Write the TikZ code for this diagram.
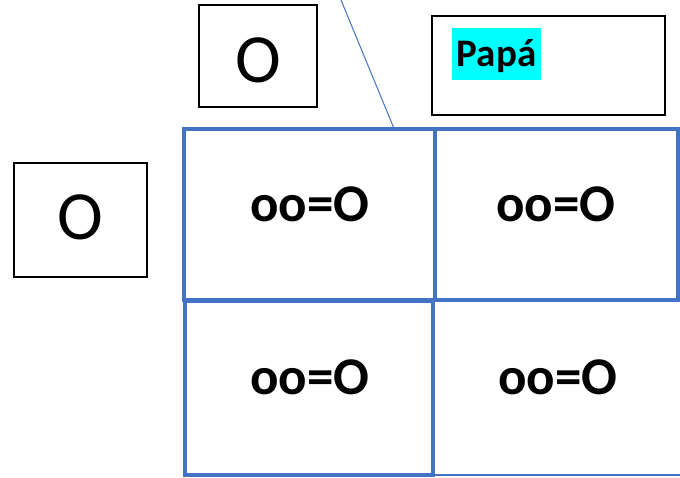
\documentclass[tikz,border=0pt]{standalone}
\usepackage{fontspec}
\setmainfont{Carlito}
\usetikzlibrary{calc}
\definecolor{gridblue}{HTML}{4472C4}
\definecolor{hlcyan}{HTML}{00FFFF}
\begin{document}
\begin{tikzpicture}[x=1pt,y=-1pt,
  blackbox/.style={draw=black, line width=2pt, inner sep=0pt},
  cell/.style={draw=gridblue, line width=3.5pt, inner sep=0pt},
  thincell/.style={draw=gridblue, line width=2pt, inner sep=0pt},
  celltext/.style={anchor=base, font=\fontsize{53}{60}\selectfont\bfseries},
  bigO/.style={anchor=base, font=\fontsize{69}{80}\selectfont},
  conn/.style={draw=gridblue, line width=1pt}]
\useasboundingbox (0,0) rectangle (680,478);
% top O box
\node[blackbox, minimum width=118pt, minimum height=102pt] (topbox) at (258,56) {};
\node[bigO] (topO) at (258,83) {O};
% left O box
\node[blackbox, minimum width=133pt, minimum height=114pt] (leftbox) at (80.5,220) {};
\node[bigO] (leftO) at (80,240) {O};
% Papa box
\node[blackbox, minimum width=233pt, minimum height=99pt] (papabox) at (548.5,65.5) {};
\node[fill=hlcyan, inner sep=0pt, minimum width=89pt, minimum height=52pt] (hl) at (496.5,54) {};
\node[anchor=base, font=\fontsize{39}{44}\selectfont\bfseries] (papa) at (496.5,67) {Papá};
% grid cells
\node[cell, minimum width=251pt, minimum height=171pt] (tl) at (309.5,214.5) {};
\node[cell, minimum width=243pt, minimum height=171pt] (tr) at (556.5,214.5) {};
\node[cell, minimum width=248pt, minimum height=174pt] (bl) at (309,388) {};
\node[thincell, minimum width=260pt, minimum height=174pt] (br) at (563,388) {};
\node[celltext] (t1) at (310,222) {oo=O};
\node[celltext] (t2) at (556,222) {oo=O};
\node[celltext] (t3) at (310,394) {oo=O};
\node[celltext] (t4) at (558,394) {oo=O};
% connector
\coordinate (lt) at (341,0);
\coordinate (lb) at ($(tl.north west)!0.83!(tl.north east)$);
\draw[conn] (lt) -- (lb);
\end{tikzpicture}
\end{document}
